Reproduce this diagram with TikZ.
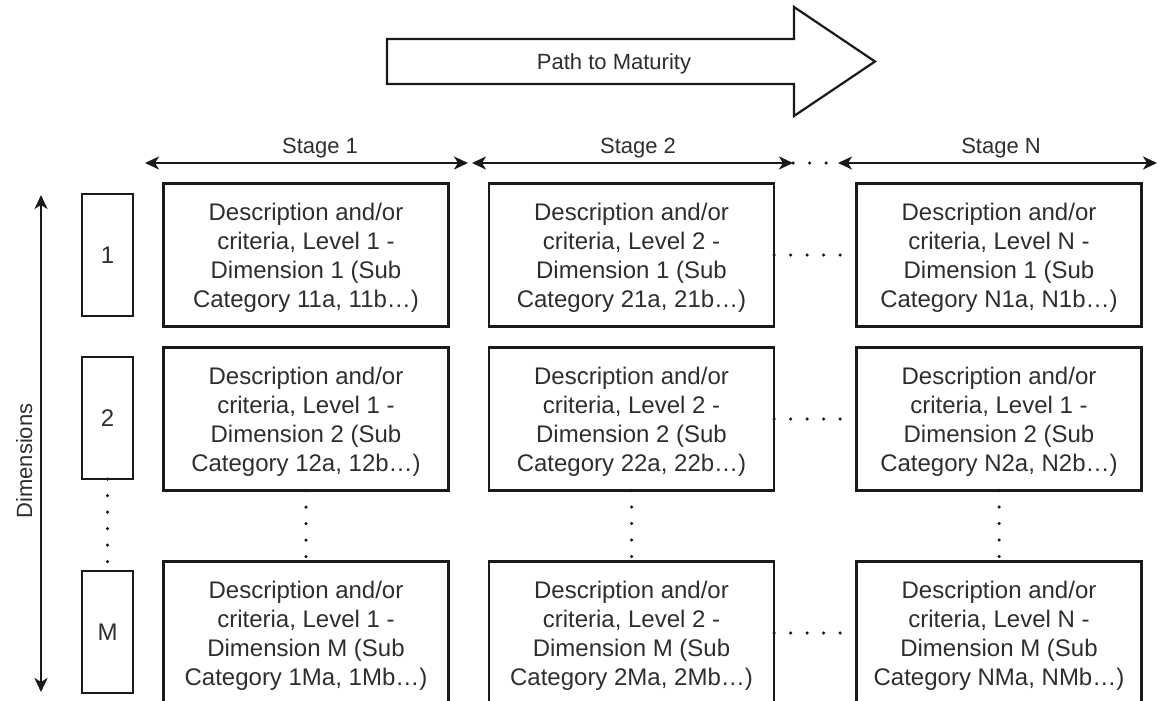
\documentclass[tikz,border=0pt]{standalone}
\usepackage{fontspec}
\setmainfont{Liberation Sans}
\usetikzlibrary{arrows.meta}
\definecolor{ink}{HTML}{1A1A1A}
\definecolor{txt}{HTML}{2E2E2E}
\begin{document}
\begin{tikzpicture}[x=1pt,y=-1pt,line width=2.2pt,
  cell/.style={draw=ink, minimum width=285pt, minimum height=143pt, inner sep=0pt,
    outer sep=0pt, align=center, text=txt, font=\fontsize{24}{29}\selectfont,
    text height=104pt, text depth=0pt},
  dimbox/.style={draw=ink, minimum width=51pt, minimum height=122pt, inner sep=0pt,
    outer sep=0pt, text=txt, font=\fontsize{24}{29}\selectfont},
  lbl/.style={text=txt, font=\fontsize{22}{26}\selectfont, inner sep=0pt, anchor=base},
  span/.style={draw=ink, {Stealth[length=14pt,width=13pt,inset=4pt]}-{Stealth[length=14pt,width=13pt,inset=4pt]}},
  dots/.style={draw=ink, line width=3.5pt, line cap=round, dash pattern=on 0pt off 16.5pt},
]
\useasboundingbox (0,0) rectangle (1159,701);

% big arrow
\draw[ink, fill=white] (387,39) -- (794,39) -- (794,7) -- (875,61.5) -- (794,116)
  -- (794,84) -- (387,84) -- cycle;
\node[lbl] (path) at (614,70) {Path to Maturity};

% stage spans
\coordinate (s1a) at (145,163); \coordinate (s1b) at (468,163);
\coordinate (s2a) at (472,163); \coordinate (s2b) at (793,163);
\coordinate (sNa) at (838,163); \coordinate (sNb) at (1157,163);
\draw[span] (s1a) -- (s1b);
\draw[span] (s2a) -- (s2b);
\draw[span] (sNa) -- (sNb);
\draw[dots] (s2b) -- (sNa);
\node[lbl] (st1) at (320,153) {Stage 1};
\node[lbl] (st2) at (638,153) {Stage 2};
\node[lbl] (stN) at (1001,153) {Stage N};

% dimension axis
\coordinate (da) at (41,195); \coordinate (db) at (41,692);
\draw[span] (da) -- (db);
\node[lbl, rotate=90] (dimlbl) at (32,461) {Dimensions};

% dimension boxes
\node[dimbox] (d1) at (107.5,255) {1};
\node[dimbox] (d2) at (107.5,418) {2};
\node[dimbox] (d3) at (107.5,632) {M};
\draw[dots] (d2.south) -- (d3.north);

% stage 1 column
\node[cell] (c11) at (306,255) {Description and/or\\criteria, Level 1 -\\Dimension 1 (Sub\\Category 11a, 11b\dots)};
\node[cell] (c12) at (306,419) {Description and/or\\criteria, Level 1 -\\Dimension 2 (Sub\\Category 12a, 12b\dots)};
\node[cell] (c13) at (306,633) {Description and/or\\criteria, Level 1 -\\Dimension M (Sub\\Category 1Ma, 1Mb\dots)};

% stage 2 column
\node[cell] (c21) at (631.5,255) {Description and/or\\criteria, Level 2 -\\Dimension 1 (Sub\\Category 21a, 21b\dots)};
\node[cell] (c22) at (631.5,419) {Description and/or\\criteria, Level 2 -\\Dimension 2 (Sub\\Category 22a, 22b\dots)};
\node[cell] (c23) at (631.5,633) {Description and/or\\criteria, Level 2 -\\Dimension M (Sub\\Category 2Ma, 2Mb\dots)};

% stage N column
\node[cell] (c31) at (999,255) {Description and/or\\criteria, Level N -\\Dimension 1 (Sub\\Category N1a, N1b\dots)};
\node[cell] (c32) at (999,419) {Description and/or\\criteria, Level 1 -\\Dimension 2 (Sub\\Category N2a, N2b\dots)};
\node[cell] (c33) at (999,633) {Description and/or\\criteria, Level N -\\Dimension M (Sub\\Category NMa, NMb\dots)};

% elided rows and columns
\draw[dots] (c12.south) -- (c13.north);
\draw[dots] (c22.south) -- (c23.north);
\draw[dots] (c32.south) -- (c33.north);
\draw[dots] (c21.east) -- (c31.west);
\draw[dots] (c22.east) -- (c32.west);
\draw[dots] (c23.east) -- (c33.west);
\end{tikzpicture}
\end{document}
